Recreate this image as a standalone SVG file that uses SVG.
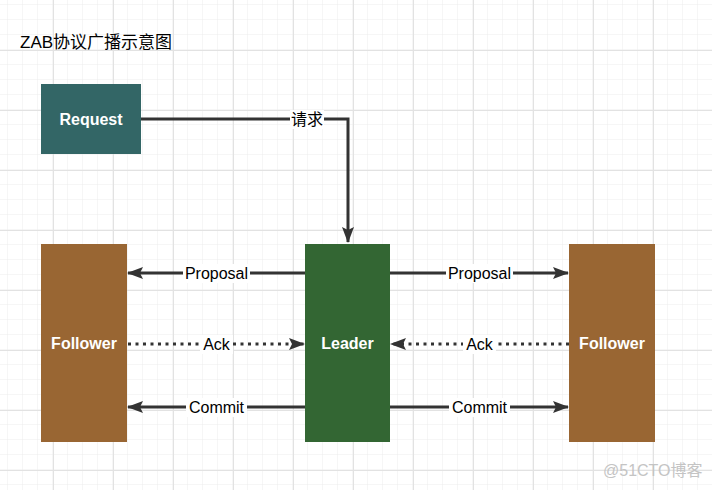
<svg xmlns="http://www.w3.org/2000/svg" width="712" height="490" viewBox="0 0 712 490">
<defs>
<pattern id="minor" x="8" y="5" width="15" height="15" patternUnits="userSpaceOnUse">
<path d="M15 0V15M0 15H15" fill="none" stroke="#ededed" stroke-width="1"/>
</pattern>
<pattern id="major" x="53" y="50" width="60" height="60" patternUnits="userSpaceOnUse">
<path d="M0.5 0V60M0 0.5H60" fill="none" stroke="#e2e2e2" stroke-width="1"/>
</pattern>
<marker id="arr" viewBox="0 0 16 12" refX="15" refY="6" markerWidth="16" markerHeight="12" markerUnits="userSpaceOnUse" orient="auto">
<path d="M0 0L16 6L0 12L3 6Z" fill="#333333"/>
</marker>
</defs>
<style>
.node text{font-family:"Liberation Sans",Arial,sans-serif;font-size:16px;font-weight:bold;fill:#ffffff;text-anchor:middle;dominant-baseline:central}
.edge{fill:none;stroke:#333333;stroke-width:3}
.dot{stroke-dasharray:3 4.5}
.lbl{font-family:"Liberation Sans","Noto Sans CJK SC",Arial,sans-serif;font-size:16px;fill:#000000;text-anchor:middle;dominant-baseline:central}
.lblbg{fill:#ffffff}
</style>
<rect width="712" height="490" fill="#ffffff"/>
<rect width="712" height="490" fill="url(#minor)"/>
<rect width="712" height="490" fill="url(#major)"/>
<text x="20" y="48" font-family="'Liberation Sans','Noto Sans CJK SC',sans-serif" font-size="17" fill="#000000">ZAB协议广播示意图</text>
<g id="connectors">
<path class="edge" d="M141 119H348V242" marker-end="url(#arr)"/>
<path class="edge" d="M305 273H128" marker-end="url(#arr)"/>
<path class="edge dot" d="M128 344H304" marker-end="url(#arr)"/>
<path class="edge" d="M305 407H128" marker-end="url(#arr)"/>
<path class="edge" d="M390 273H568" marker-end="url(#arr)"/>
<path class="edge dot" d="M569 344H391" marker-end="url(#arr)"/>
<path class="edge" d="M390 407H568" marker-end="url(#arr)"/>
<rect class="lblbg" x="290" y="110" width="34" height="19"/>
<text class="lbl" x="307" y="119">请求</text>
<rect class="lblbg" x="183" y="264" width="67" height="19"/>
<text class="lbl" x="216.5" y="273">Proposal</text>
<rect class="lblbg" x="200" y="335" width="33" height="19"/>
<text class="lbl" x="216.5" y="344">Ack</text>
<rect class="lblbg" x="186" y="398" width="61" height="19"/>
<text class="lbl" x="216.5" y="407">Commit</text>
<rect class="lblbg" x="446" y="264" width="67" height="19"/>
<text class="lbl" x="479.5" y="273">Proposal</text>
<rect class="lblbg" x="463" y="335" width="33" height="19"/>
<text class="lbl" x="479.5" y="344">Ack</text>
<rect class="lblbg" x="449" y="398" width="61" height="19"/>
<text class="lbl" x="479.5" y="407">Commit</text>
</g>
<g id="request" class="node">
<rect x="41" y="84" width="100" height="70" fill="#336666"/>
<text x="91" y="119">Request</text>
</g>
<g id="follower-left" class="node">
<rect x="41" y="244" width="86" height="198" fill="#996633"/>
<text x="84" y="343">Follower</text>
</g>
<g id="leader" class="node">
<rect x="305" y="244" width="85" height="198" fill="#336633"/>
<text x="347.5" y="343">Leader</text>
</g>
<g id="follower-right" class="node">
<rect x="569" y="244" width="86" height="198" fill="#996633"/>
<text x="612" y="343">Follower</text>
</g>
<text x="603" y="476" font-family="'Liberation Sans','Noto Sans CJK SC',sans-serif" font-size="16" fill="#c4c4c4">@51CTO博客</text>
</svg>
